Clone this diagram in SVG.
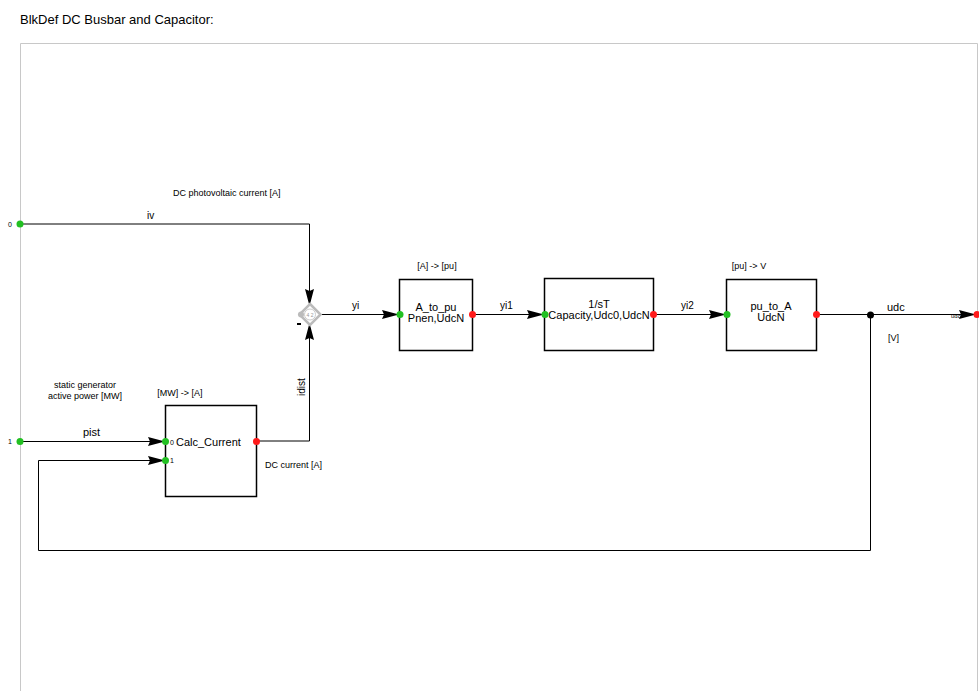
<svg xmlns="http://www.w3.org/2000/svg" width="979" height="691" viewBox="0 0 979 691">
<defs>
<style>
.t{font-family:"Liberation Sans",Arial,sans-serif;fill:#000}
.s{font-size:9px}
.m{font-size:11px}
.w{stroke:#000;stroke-width:1;fill:none}
.b{stroke:#000;stroke-width:1.5;fill:#fff}
.g{fill:#22c022}
.r{fill:#ff1a1a}
</style>
<marker id="ar" markerWidth="18" markerHeight="10" refX="17" refY="5" orient="auto" markerUnits="userSpaceOnUse">
<path d="M0,0.5 L17,5 L0,9.5 L2,5 Z" fill="#000"/>
</marker>
</defs>
<rect width="979" height="691" fill="#fff"/>
<text class="t" x="20" y="24" font-size="13">BlkDef DC Busbar and Capacitor:</text>
<path d="M20.5,691 V43.5 H977.5 V691" stroke="#c8c8c8" fill="none"/>

<g id="connectors">
<path class="w" d="M20,224 H309.5 V306" marker-end="url(#ar)"/>
<path class="w" d="M256,441 H309.5 V323" marker-end="url(#ar)"/>
<path class="w" d="M319,314.5 H399" marker-end="url(#ar)"/>
<path class="w" d="M472,314.5 H544" marker-end="url(#ar)"/>
<path class="w" d="M653,314.5 H726" marker-end="url(#ar)"/>
<path class="w" d="M816,314.5 H976" marker-end="url(#ar)"/>
<path class="w" d="M870.5,315 V550.5 H38.5 V460.5 H165" marker-end="url(#ar)"/>
<path class="w" d="M20,441.5 H165" marker-end="url(#ar)"/>
<circle cx="870.5" cy="315" r="3.5" fill="#000"/>
<text class="t s" x="173" y="196">DC photovoltaic current [A]</text>
<text class="t" x="147" y="219" font-size="10">iv</text>
<text class="t" x="352" y="309" font-size="10">yi</text>
<text class="t" x="500" y="309" font-size="10">yi1</text>
<text class="t" x="681" y="309" font-size="10">yi2</text>
<text class="t" x="887" y="311" font-size="11">udc</text>
<text class="t s" x="888" y="341">[V]</text>
<text class="t" x="951" y="318" font-size="6">udc</text>
<text class="t" x="83" y="436" font-size="11">pist</text>
<text class="t" font-size="10" transform="translate(305,396) rotate(-90)">idist</text>
<text class="t s" x="265" y="468">DC current [A]</text>
<text class="t s" x="85" y="388" text-anchor="middle">static generator</text>
<text class="t s" x="85" y="399" text-anchor="middle">active power [MW]</text>
<rect x="297" y="323" width="4" height="2" fill="#000"/>
</g>

<g id="in0">
<circle class="g" cx="20" cy="224" r="3.5"/>
<text class="t" x="8" y="227" font-size="7">0</text>
</g>
<g id="in1">
<circle class="g" cx="20" cy="441.5" r="3.5"/>
<text class="t" x="8" y="444" font-size="7">1</text>
</g>

<g id="sum">
<path d="M310,304 L320.5,314.5 L310,325 L299.5,314.5 Z" fill="#fff" stroke="#bbb" stroke-width="2.5"/>
<circle cx="310" cy="314.5" r="5.5" fill="#fff" stroke="#ccc" stroke-width="1"/>
<circle cx="301" cy="314.5" r="3" fill="#bbb"/>
<text x="310" y="317" font-size="5" text-anchor="middle" fill="#999" font-family="Liberation Sans,sans-serif">4 2</text>
</g>

<g id="A_to_pu">
<text class="t s" x="437" y="269" text-anchor="middle">[A] -&gt; [pu]</text>
<rect class="b" x="399.5" y="279.5" width="73" height="71"/>
<text class="t m" x="436" y="311" text-anchor="middle">A_to_pu</text>
<text class="t m" x="436" y="322" text-anchor="middle">Pnen,UdcN</text>
<circle class="g" cx="400" cy="314.5" r="3.5"/>
<circle class="r" cx="472.5" cy="314.5" r="3.5"/>
</g>

<g id="Integrator">
<rect class="b" x="544.5" y="278.5" width="109" height="72"/>
<text class="t m" x="599" y="308" text-anchor="middle">1/sT</text>
<text class="t m" x="599" y="319" text-anchor="middle">Capacity,Udc0,UdcN</text>
<circle class="g" cx="545" cy="314.5" r="3.5"/>
<circle class="r" cx="653.5" cy="314.5" r="3.5"/>
</g>

<g id="pu_to_A">
<text class="t s" x="749" y="269" text-anchor="middle">[pu] -&gt; V</text>
<rect class="b" x="726.5" y="279.5" width="90" height="71"/>
<text class="t m" x="771" y="310" text-anchor="middle">pu_to_A</text>
<text class="t m" x="771" y="321" text-anchor="middle">UdcN</text>
<circle class="g" cx="727" cy="314.5" r="3.5"/>
<circle class="r" cx="816.5" cy="314.5" r="3.5"/>
</g>

<g id="out0">
<circle class="r" cx="977" cy="314.5" r="3.5"/>
</g>

<g id="Calc_Current">
<text class="t s" x="180" y="396" text-anchor="middle">[MW] -&gt; [A]</text>
<rect class="b" x="165.5" y="405.5" width="91" height="91"/>
<text class="t m" x="176" y="446">Calc_Current</text>
<text class="t" x="170" y="445" font-size="7">0</text>
<text class="t" x="170" y="463" font-size="7">1</text>
<circle class="g" cx="165.5" cy="441.5" r="3.5"/>
<circle class="g" cx="165.5" cy="460.5" r="3.5"/>
<circle class="r" cx="256.5" cy="441.5" r="3.5"/>
</g>
</svg>
